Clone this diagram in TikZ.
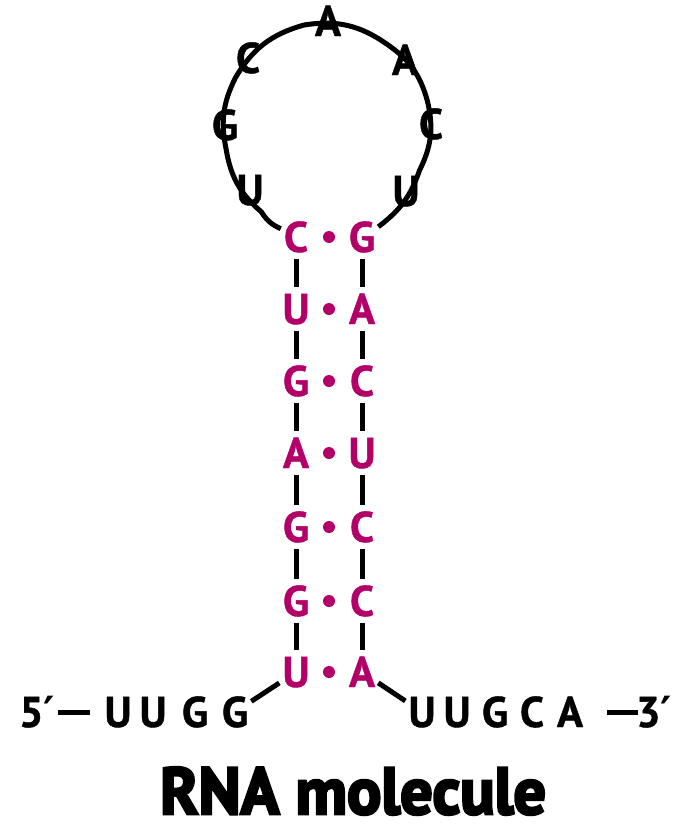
\documentclass[tikz,border=0pt]{standalone}
\usepackage{fontspec}
\setmainfont{PT Sans}[BoldFeatures={FakeBold=1}]
\newfontfamily\titlefont[BoldFeatures={FakeStretch=0.97,FakeBold=4}]{PT Sans}
\newfontfamily\primefont{DejaVu Sans}
\newcommand\rnaprime{{\primefont\bfseries ′}}
\usepackage{tikz}
\definecolor{rnapink}{RGB}{178,0,104}

\begin{document}
\begin{tikzpicture}[x=1pt,y=-1pt,
	base/.style={font=\fontsize{43}{43}\selectfont\bfseries, text height=30pt, text depth=0pt, inner xsep=3pt, inner ysep=7pt},
	paired/.style={base, text=rnapink},
	loopbase/.style={base, circle, inner sep=3pt},
	pairdot/.style={circle, fill=rnapink, inner sep=0pt, minimum size=12pt},
	bond/.style={line width=5pt}]
	\useasboundingbox (0,0) rectangle (680,827);
	
	% stem, left strand
	\node[paired] (s1) at (296,237) {C};
	\node[paired] (s2) at (296,309) {U};
	\node[paired] (s3) at (296,381) {G};
	\node[paired] (s4) at (296,453) {A};
	\node[paired] (s5) at (296,527) {G};
	\node[paired] (s6) at (296,601) {G};
	\node[paired] (s7) at (296,672) {U};
	
	% stem, right strand
	\node[paired] (t1) at (362,237) {G};
	\node[paired] (t2) at (362,309) {A};
	\node[paired] (t3) at (362,381) {C};
	\node[paired] (t4) at (362,453) {U};
	\node[paired] (t5) at (362,527) {C};
	\node[paired] (t6) at (362,601) {C};
	\node[paired] (t7) at (362,672) {A};
	
	% base pairs
	\node[pairdot] (d1) at (329,237) {};
	\node[pairdot] (d2) at (329,309) {};
	\node[pairdot] (d3) at (329,381) {};
	\node[pairdot] (d4) at (329,453) {};
	\node[pairdot] (d5) at (329,527) {};
	\node[pairdot] (d6) at (329,601) {};
	\node[pairdot] (d7) at (329,672) {};
	
	% loop
	\node[loopbase] (lU1) at (250,190) {U};
	\node[loopbase] (lG1) at (225,125) {G};
	\node[loopbase] (lC1) at (248,58) {C};
	\node[loopbase] (lA1) at (328,21) {A};
	\node[loopbase] (lA2) at (405,60) {A};
	\node[loopbase] (lC2) at (431,124) {C};
	\node[loopbase] (lU2) at (406,191) {U};
	
	% 5' tail
	\node[base] (p5) at (37,712) {5\rnaprime};
	\node[base] (a1) at (118,712) {U};
	\node[base] (a2) at (153,712) {U};
	\node[base] (a3) at (195,712) {G};
	\node[base] (a4) at (235,712) {G};
	\coordinate (dash5a) at (58,712);
	\coordinate (dash5b) at (90,712);
	
	% 3' tail
	\node[base] (b1) at (422,712) {U};
	\node[base] (b2) at (457,712) {U};
	\node[base] (b3) at (495,712) {G};
	\node[base] (b4) at (532,712) {C};
	\node[base] (b5) at (570,712) {A};
	\node[base] (p3) at (654,712) {3\rnaprime};
	\coordinate (dash3a) at (607,712);
	\coordinate (dash3b) at (638,712);
	
	\node[font=\titlefont\bfseries\fontsize{66}{66}\selectfont, anchor=base, inner sep=0pt] (title) at (353,814) {RNA molecule};
	
	% backbone
	\draw[bond] (s1) -- (s2) -- (s3) -- (s4) -- (s5) -- (s6) -- (s7);
	\draw[bond] (t1) -- (t2) -- (t3) -- (t4) -- (t5) -- (t6) -- (t7);
	\draw[bond] (s1) to[bend left=17] (lU1) to[bend left=20] (lG1) to[bend left=19] (lC1)
		to[bend left=22] (lA1) to[bend left=22] (lA2) to[bend left=20] (lC2)
		to[bend left=20] (lU2) to[bend left=17] (t1);
	\draw[bond] (a4) -- (s7);
	\draw[bond] (t7) -- (b1);
	\draw[bond] (dash5a) -- (dash5b);
	\draw[bond] (dash3a) -- (dash3b);
\end{tikzpicture}
\end{document}
